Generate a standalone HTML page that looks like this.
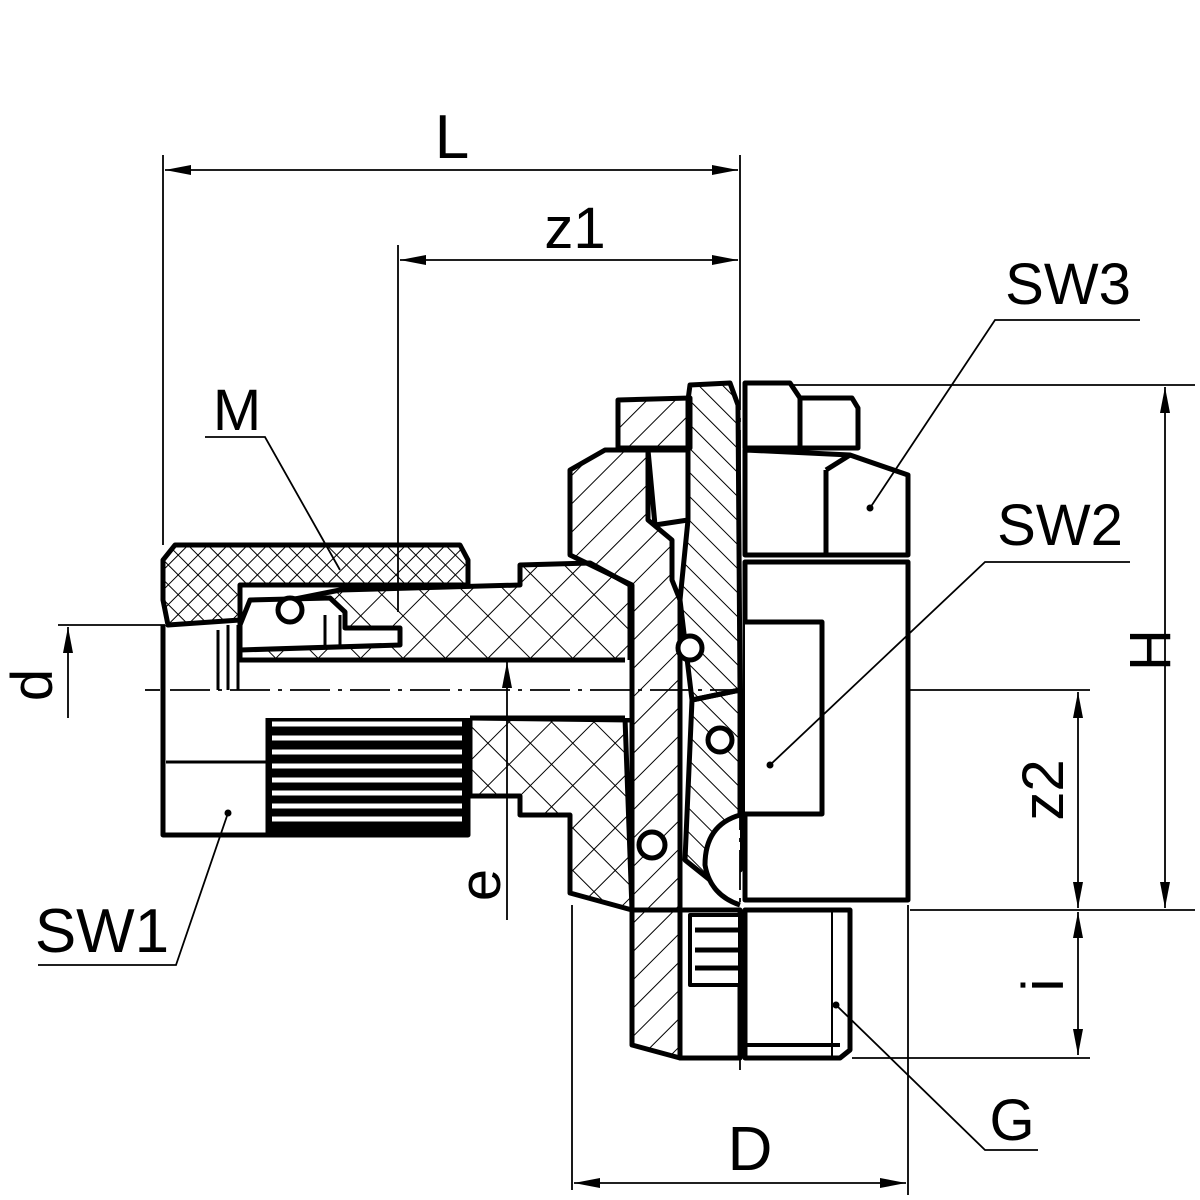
<!DOCTYPE html>
<html><head><meta charset="utf-8"><style>
html,body{margin:0;padding:0;background:#fff;}
svg{display:block}
text{font-family:"Liberation Sans",sans-serif;fill:#000}
</style></head><body>
<svg width="1200" height="1200" viewBox="0 0 1200 1200" xmlns="http://www.w3.org/2000/svg">
<defs>
<pattern id="ch" width="30" height="30" patternUnits="userSpaceOnUse" patternTransform="rotate(45)">
<line x1="0" y1="0" x2="0" y2="30" stroke="#000" stroke-width="2"/>
<line x1="0" y1="0" x2="30" y2="0" stroke="#000" stroke-width="2"/>
</pattern>
<pattern id="ch2" width="14" height="14" patternUnits="userSpaceOnUse" patternTransform="rotate(45)">
<line x1="0" y1="0" x2="0" y2="14" stroke="#000" stroke-width="2"/>
<line x1="0" y1="0" x2="14" y2="0" stroke="#000" stroke-width="2"/>
</pattern>
<pattern id="hA" width="20" height="20" patternUnits="userSpaceOnUse" patternTransform="rotate(45)">
<line x1="0" y1="0" x2="0" y2="20" stroke="#000" stroke-width="2"/>
</pattern>
<pattern id="hB" width="17" height="17" patternUnits="userSpaceOnUse" patternTransform="rotate(-45)">
<line x1="0" y1="0" x2="0" y2="17" stroke="#000" stroke-width="2"/>
</pattern>
<marker id="ar" viewBox="0 0 26 10" refX="26" refY="5" markerWidth="26" markerHeight="10" orient="auto-start-reverse" markerUnits="userSpaceOnUse">
<path d="M0,0 L26,5 L0,10 Z" fill="#000"/>
</marker>
</defs>

<!-- LEFT NUT -->
<g stroke="#000" stroke-width="5" stroke-linejoin="round">
<path d="M175,545 L460,545 L468,560 L468,585 L240,585 L240,620 L168,625 L163,600 L163,560 Z" fill="url(#ch2)"/>
<path d="M163,625 L163,835 L268,835 L268,690 L240,690" fill="#fff"/>
<line x1="166" y1="762" x2="268" y2="762" stroke-width="3"/>
<rect x="268" y="690" width="200" height="145" fill="#000"/>
</g>
<g stroke="#fff" stroke-width="5">
<line x1="272" y1="700" x2="462" y2="700"/><line x1="272" y1="712" x2="462" y2="712"/>
<line x1="272" y1="724" x2="462" y2="724"/><line x1="272" y1="738" x2="462" y2="738"/>
<line x1="272" y1="752" x2="462" y2="752"/><line x1="272" y1="766" x2="462" y2="766"/>
<line x1="272" y1="780" x2="462" y2="780"/><line x1="272" y1="793" x2="462" y2="793"/>
<line x1="272" y1="806" x2="462" y2="806"/><line x1="272" y1="819" x2="462" y2="819"/>
</g>
<!-- TUBE -->
<g stroke="#000" stroke-width="5" stroke-linejoin="round">
<path d="M240,620 L290,600 L340,590 L520,585 L520,565 L590,563 L630,585 L630,720 L470,718 L470,660 L240,660 Z" fill="url(#ch)"/>
<path d="M470,718 L625,718 L632,910 L570,893 L570,815 L520,815 L520,796 L470,796 Z" fill="url(#ch)"/>
<rect x="240" y="660" width="390" height="58" fill="#fff" stroke="none"/>
<line x1="240" y1="660" x2="625" y2="660"/>
<line x1="470" y1="718" x2="625" y2="718"/>
<path d="M250,600 L330,598 L345,612 L345,628 L400,628 L400,645 L240,650 L240,625 Z" fill="#fff"/>
<circle cx="290" cy="610" r="12" fill="#fff"/>
<line x1="218" y1="630" x2="218" y2="690" stroke-width="3"/>
<line x1="228" y1="625" x2="228" y2="690" stroke-width="3"/>
<line x1="238" y1="625" x2="238" y2="690" stroke-width="3"/>
<line x1="325" y1="615" x2="325" y2="648" stroke-width="3"/>
<line x1="340" y1="615" x2="340" y2="648" stroke-width="3"/>
</g>

<!-- CENTRAL BODY -->
<g stroke="#000" stroke-width="5" stroke-linejoin="round">
<path d="M570,470 L605,450 L648,450 L648,520 L672,540 L672,580 L680,600 L680,910 L632,910 L632,585 L570,555 Z" fill="url(#hA)"/>
<path d="M632,910 L680,910 L680,1058 L632,1045 Z" fill="url(#hA)"/>
<path d="M618,400 L690,398 L690,448 L618,448 Z" fill="url(#hA)"/>
<path d="M648,450 L688,450 L688,520 L655,525 Z" fill="#fff"/>
<path d="M690,385 L730,383 L738,405 L740,690 L692,700 L680,600 L688,520 L688,400 Z" fill="url(#hB)"/>
<path d="M692,700 L740,690 L740,870 L710,880 L685,860 Z" fill="url(#hB)"/>
<path d="M680,910 L740,910 L740,1058 L680,1058 Z" fill="#fff"/>
<circle cx="690" cy="648" r="12" fill="#fff"/>
<circle cx="720" cy="740" r="12" fill="#fff"/>
<circle cx="652" cy="845" r="13" fill="#fff"/>
<path d="M740,815 Q705,825 705,865 Q710,895 740,905" fill="#fff"/>
<rect x="690" y="915" width="50" height="70" fill="#fff" stroke-width="4"/>
<line x1="695" y1="930" x2="740" y2="930"/>
<line x1="695" y1="950" x2="740" y2="950"/>
<line x1="695" y1="968" x2="740" y2="968"/>
</g>

<!-- RIGHT BODY -->
<g stroke="#000" stroke-width="5" stroke-linejoin="round" fill="#fff">
<path d="M745,383 L790,383 L800,398 L852,398 L858,408 L858,448 L745,448 Z"/>
<line x1="800" y1="398" x2="800" y2="448"/>
<path d="M745,450 L850,455 L908,475 L908,555 L745,555 Z"/>
<line x1="826" y1="470" x2="826" y2="555"/>
<line x1="826" y1="470" x2="850" y2="455"/>
<rect x="745" y="562" width="163" height="338"/>
<path d="M745,622 L822,622 L822,814 L745,814"/>
<path d="M745,910 L850,910 L850,1050 L840,1058 L745,1058 Z"/>
<line x1="832" y1="912" x2="832" y2="1056" stroke-width="2"/>
<line x1="745" y1="1045" x2="840" y2="1045" stroke-width="4"/>
</g>

<g stroke="#000" stroke-width="1.8" fill="none">
<line x1="163" y1="155" x2="163" y2="545"/>
<line x1="398" y1="245" x2="398" y2="612"/>
<line x1="740" y1="155" x2="740" y2="370"/>
<line x1="165" y1="170" x2="738" y2="170" marker-start="url(#ar)" marker-end="url(#ar)"/>
<line x1="400" y1="260" x2="738" y2="260" marker-start="url(#ar)" marker-end="url(#ar)"/>
<line x1="790" y1="385" x2="1195" y2="385"/>
<line x1="910" y1="910" x2="1195" y2="910"/>
<line x1="1165" y1="387" x2="1165" y2="908" marker-start="url(#ar)" marker-end="url(#ar)"/>
<line x1="910" y1="690" x2="1090" y2="690"/>
<line x1="1078" y1="692" x2="1078" y2="908" marker-start="url(#ar)" marker-end="url(#ar)"/>
<line x1="1078" y1="912" x2="1078" y2="1055" marker-start="url(#ar)" marker-end="url(#ar)"/>
<line x1="852" y1="1058" x2="1090" y2="1058"/>
<line x1="572" y1="905" x2="572" y2="1190"/>
<line x1="908" y1="905" x2="908" y2="1195"/>
<line x1="574" y1="1183" x2="906" y2="1183" marker-start="url(#ar)" marker-end="url(#ar)"/>
<line x1="58" y1="625" x2="165" y2="625"/>
<line x1="145" y1="690" x2="160" y2="690"/>
<line x1="68" y1="718" x2="68" y2="627" marker-end="url(#ar)"/>
<line x1="507" y1="920" x2="507" y2="662" marker-end="url(#ar)"/>
<polyline points="1140,320 995,320 870,508"/>
<polyline points="1130,562 985,562 770,765"/>
<polyline points="1038,1150 985,1150 836,1005"/>
<polyline points="38,965 176,965 228,813"/>
<polyline points="205,437 265,437 340,570"/>
<line x1="740" y1="370" x2="740" y2="1070" stroke-dasharray="40,8,4,8"/>
<line x1="170" y1="690" x2="740" y2="690" stroke-dasharray="40,8,4,8"/>
</g>
<g fill="#000" stroke="none">
<circle cx="870" cy="508" r="3.5"/><circle cx="770" cy="765" r="3.5"/>
<circle cx="836" cy="1005" r="3.5"/><circle cx="228" cy="813" r="3.5"/>
</g>

<text x="452" y="158" font-size="62" text-anchor="middle">L</text>
<text x="575" y="248" font-size="58" text-anchor="middle">z1</text>
<text x="1068" y="304" font-size="58" text-anchor="middle">SW3</text>
<text x="1060" y="545" font-size="58" text-anchor="middle">SW2</text>
<text x="237" y="430" font-size="58" text-anchor="middle">M</text>
<text x="102" y="952" font-size="62" text-anchor="middle">SW1</text>
<text x="1012" y="1140" font-size="58" text-anchor="middle">G</text>
<text x="750" y="1170" font-size="62" text-anchor="middle">D</text>
<text transform="translate(1170,650) rotate(-90)" font-size="58" text-anchor="middle">H</text>
<text transform="translate(1063,790) rotate(-90)" font-size="58" text-anchor="middle">z2</text>
<text transform="translate(1063,985) rotate(-90)" font-size="58" text-anchor="middle">i</text>
<text transform="translate(52,685) rotate(-90)" font-size="58" text-anchor="middle">d</text>
<text transform="translate(500,885) rotate(-90)" font-size="58" text-anchor="middle">e</text>
</svg>
</body></html>
